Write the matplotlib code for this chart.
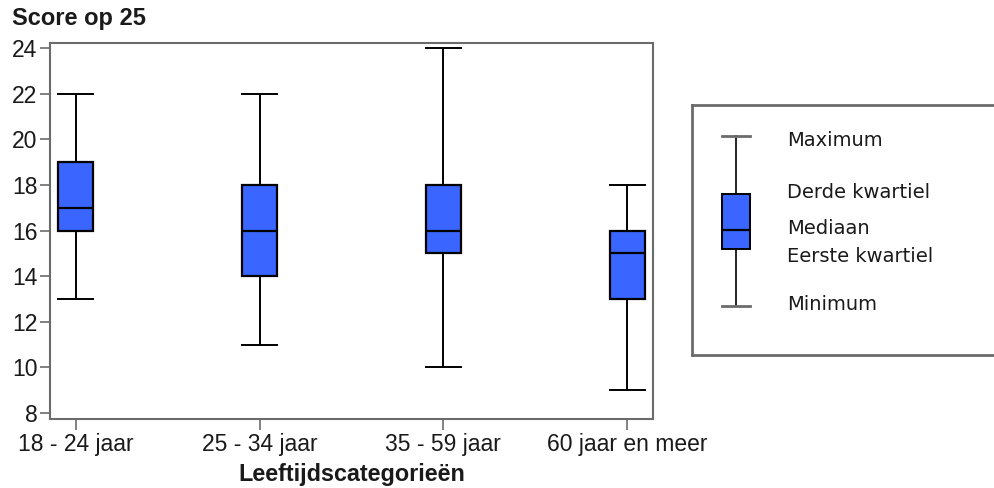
import matplotlib
matplotlib.use('Agg')
import matplotlib.pyplot as plt

# Data
categories = ['18 - 24 jaar', '25 - 34 jaar', '35 - 59 jaar', '60 jaar en meer']
minimum = [13, 11, 10, 9]
q1 = [16, 14, 15, 13]
median = [17, 16, 16, 15]
q3 = [19, 18, 18, 16]
maximum = [22, 22, 24, 18]

legend_labels = ['Maximum', 'Derde kwartiel', 'Mediaan', 'Eerste kwartiel', 'Minimum']

BOX_COLOR = '#3a66ff'
FRAME_COLOR = '#6b6b6b'
TEXT_COLOR = '#1a1a1a'
W, H = 995, 488

fig = plt.figure(figsize=(W / 100, H / 100), dpi=100)

# main axes, placed in pixel terms
left, right, top, bottom = 50, 653, 43, 419
ax = fig.add_axes([left / W, (H - bottom) / H, (right - left) / W, (bottom - top) / H])

stats = []
for i, cat in enumerate(categories):
    stats.append(dict(label=cat, whislo=minimum[i], q1=q1[i], med=median[i],
                      q3=q3[i], whishi=maximum[i], fliers=[]))

ax.bxp(stats, positions=range(len(categories)), widths=0.19, capwidths=0.19,
       patch_artist=True, showfliers=False,
       boxprops=dict(facecolor=BOX_COLOR, edgecolor='black', linewidth=1.6),
       medianprops=dict(color='black', linewidth=1.6),
       whiskerprops=dict(color='black', linewidth=1.4),
       capprops=dict(color='black', linewidth=1.4))

ax.set_xlim(-0.14, 3.14)
ax.set_ylim(7.74, 24.22)
ax.set_yticks(range(8, 25, 2))
ax.set_xticks(range(len(categories)))
ax.set_xticklabels(categories)

for lbl in ax.get_xticklabels() + ax.get_yticklabels():
    lbl.set_fontfamily('Liberation Sans')
    lbl.set_fontsize(16.5)
    lbl.set_color(TEXT_COLOR)

ax.tick_params(axis='x', length=8, width=1.2, color=FRAME_COLOR, pad=2)
ax.tick_params(axis='y', length=7, width=1.2, color=FRAME_COLOR, pad=2)
for sp in ax.spines.values():
    sp.set_color(FRAME_COLOR)
    sp.set_linewidth(1.5)

fig.text((left + right) / 2 / W, 1 - 475 / H, 'Leeftijdscategorieën',
         family='Liberation Sans', size=16.8, fontweight='bold',
         ha='center', va='center', color=TEXT_COLOR)
fig.text(12 / W, 1 - 19 / H, 'Score op 25', family='Liberation Sans', size=17,
         fontweight='bold', va='center', ha='left', color=TEXT_COLOR)

# legend panel explaining the box
l_left, l_top, l_bottom = 692, 105, 355
lax = fig.add_axes([l_left / W, (H - l_bottom) / H, (W + 10 - l_left) / W,
                    (l_bottom - l_top) / H])

legend_stat = [dict(whislo=1.96, q1=4.24, med=5.0, q3=6.44, whishi=8.76, fliers=[])]
lax.bxp(legend_stat, positions=[44], widths=28, capwidths=28, patch_artist=True,
        showfliers=False,
        boxprops=dict(facecolor=BOX_COLOR, edgecolor='black', linewidth=1.4),
        medianprops=dict(color='black', linewidth=1.6),
        whiskerprops=dict(color='black', linewidth=1.2),
        capprops=dict(color=FRAME_COLOR, linewidth=2))
lax.set_xlim(0, W + 10 - l_left)
lax.set_ylim(0, 10)
lax.set_xticks([])
lax.set_yticks([])
for sp in lax.spines.values():
    sp.set_color(FRAME_COLOR)
    sp.set_linewidth(2)

label_y = [8.6, 6.48, 5.04, 3.92, 2.04]
for txt, y in zip(legend_labels, label_y):
    lax.text(95, y, txt, family='DejaVu Sans', size=14, va='center', ha='left',
             color=TEXT_COLOR)

plt.savefig('out.png', dpi=100)
